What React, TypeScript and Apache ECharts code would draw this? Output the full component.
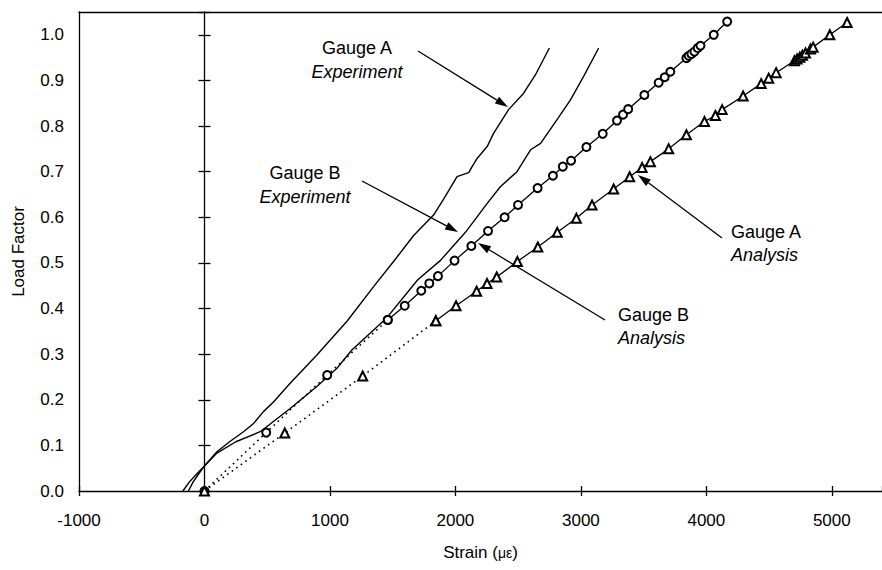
import React, { useEffect, useRef } from "react";
import * as echarts from "echarts";

// ---- Data ----
// Gauge A – experiment
const strainExpA = [-172, -120, -60, 0, 99, 200, 311, 391, 470, 550, 683, 896, 1136, 1348, 1507, 1667, 1826, 1906, 2013, 2053, 2106, 2133, 2173, 2253, 2304, 2424, 2544, 2637, 2749];
const loadExpA = [0, 0.02, 0.038, 0.055, 0.086, 0.108, 0.13, 0.148, 0.174, 0.195, 0.236, 0.298, 0.372, 0.448, 0.503, 0.56, 0.605, 0.64, 0.689, 0.693, 0.698, 0.711, 0.729, 0.755, 0.784, 0.836, 0.872, 0.912, 0.971];

// Gauge B – experiment
const strainExpB = [-128, -90, -40, 0, 99, 250, 444, 683, 896, 1056, 1175, 1454, 1700, 1879, 2080, 2252, 2358, 2491, 2599, 2679, 2810, 2916, 3022, 3142];
const loadExpB = [0, 0.02, 0.04, 0.055, 0.083, 0.108, 0.13, 0.181, 0.229, 0.269, 0.309, 0.38, 0.463, 0.505, 0.567, 0.63, 0.667, 0.7, 0.748, 0.762, 0.814, 0.857, 0.909, 0.971];

// Gauge B – analysis (circles)
const strainAnaB = [0, 492, 978, 1461, 1596, 1728, 1792, 1861, 1993, 2127, 2260, 2392, 2499, 2655, 2777, 2856, 2922, 3044, 3174, 3288, 3336, 3377, 3506, 3620, 3668, 3713, 3841, 3859, 3881, 3905, 3931, 3953, 4059, 4166];
const loadAnaB = [0, 0.128, 0.254, 0.375, 0.406, 0.439, 0.455, 0.471, 0.505, 0.537, 0.57, 0.6, 0.627, 0.664, 0.691, 0.711, 0.724, 0.754, 0.783, 0.812, 0.825, 0.837, 0.868, 0.895, 0.907, 0.919, 0.949, 0.954, 0.958, 0.963, 0.971, 0.976, 1.0, 1.029];

// Gauge A – analysis (triangles)
const strainAnaA = [0, 640, 1261, 1844, 2005, 2169, 2252, 2329, 2494, 2657, 2812, 2964, 3089, 3261, 3389, 3488, 3554, 3700, 3841, 3985, 4072, 4126, 4293, 4437, 4497, 4556, 4702, 4723, 4745, 4766, 4790, 4830, 4851, 4984, 5122];
const loadAnaA = [0, 0.127, 0.252, 0.373, 0.406, 0.438, 0.455, 0.469, 0.503, 0.535, 0.567, 0.598, 0.627, 0.662, 0.689, 0.709, 0.722, 0.75, 0.781, 0.81, 0.823, 0.836, 0.866, 0.893, 0.905, 0.917, 0.943, 0.947, 0.951, 0.955, 0.96, 0.969, 0.973, 1.0, 1.027];

// analysis points up to this index are joined with a dotted line
const DOTTED_END = 3;

// Axis ranges
const X_MIN = -1000;
const X_MAX = 5400;
const X_STEP = 1000;
const Y_MIN = 0;
const Y_MAX = 1.05;
const Y_STEP = 0.1;

const FONT = "'Liberation Sans', Arial, Helvetica, sans-serif";
const INK = "#000";

const zip = (xs: number[], ys: number[]) => xs.map((x, i) => [x, ys[i]]);

function arrow(sx: number, sy: number, tx: number, ty: number) {
  const dx = tx - sx;
  const dy = ty - sy;
  const len = Math.hypot(dx, dy);
  const ux = dx / len;
  const uy = dy / len;
  const L = 13;
  const W = 8;
  const bx = tx - ux * L;
  const by = ty - uy * L;
  const nx = -uy;
  const ny = ux;
  return [
    { type: "line", shape: { x1: sx, y1: sy, x2: bx, y2: by }, style: { stroke: INK, lineWidth: 1.3 }, silent: true },
    {
      type: "polygon",
      shape: { points: [[tx, ty], [bx + (nx * W) / 2, by + (ny * W) / 2], [bx - (nx * W) / 2, by - (ny * W) / 2]] },
      style: { fill: INK },
      silent: true,
    },
  ];
}

function label(text: string, x: number, y: number, align: string, italic = false) {
  return {
    type: "text",
    x,
    y,
    silent: true,
    style: {
      text,
      fill: INK,
      font: `${italic ? "italic " : ""}18px ${FONT}`,
      fontSize: 18,
      fontFamily: FONT,
      fontStyle: italic ? "italic" : "normal",
      align,
      textAlign: align,
      verticalAlign: "middle",
      textVerticalAlign: "middle",
    },
  };
}

export default function App() {
  const ref = useRef<HTMLDivElement>(null);

  useEffect(() => {
    if (!ref.current) return;
    const chart = echarts.init(ref.current, null, { renderer: "svg" });

    const axisLineStyle = { color: INK, width: 1.3 };
    const baseX = { type: "value", min: X_MIN, max: X_MAX, interval: X_STEP, splitLine: { show: false } };
    const baseY = { type: "value", min: Y_MIN, max: Y_MAX, interval: Y_STEP, splitLine: { show: false } };

    const analysisSeries = (xs: number[], ys: number[], symbol: string, size: number) => [
      {
        type: "line",
        data: zip(xs, ys).slice(0, DOTTED_END + 1),
        symbol,
        symbolSize: size,
        showAllSymbol: true,
        itemStyle: { color: INK, borderWidth: 1.2 },
        lineStyle: { color: INK, width: 1.6, type: [1.6, 4] },
        z: 3,
      },
      {
        type: "line",
        data: zip(xs, ys).slice(DOTTED_END),
        symbol,
        symbolSize: size,
        showAllSymbol: true,
        itemStyle: { color: INK, borderWidth: 1.2 },
        lineStyle: { color: INK, width: 1.3 },
        z: 3,
      },
    ];

    chart.setOption({
      animation: false,
      backgroundColor: "#fff",
      textStyle: { fontFamily: FONT },
      grid: { left: 79, right: 0, top: 12, bottom: 79, show: false },
      xAxis: [
        {
          ...baseX,
          position: "bottom",
          axisLine: { onZero: false, lineStyle: axisLineStyle },
          axisTick: { show: true, length: 5, lineStyle: axisLineStyle },
          axisLabel: {
            margin: 21,
            fontSize: 17,
            color: INK,
            fontFamily: FONT,
            showMaxLabel: false,
            formatter: (v: number) => (v % X_STEP === 0 ? String(v) : ""),
          },
          name: "{a|Strain (}{b|με}{a|)}",
          nameLocation: "middle",
          nameGap: 53,
          nameTextStyle: {
            rich: {
              a: { fontSize: 17, color: INK, fontFamily: FONT },
              b: { fontSize: 14, color: INK, fontFamily: FONT },
            },
          },
        },
        {
          ...baseX,
          position: "bottom",
          axisLine: { onZero: false, show: false },
          axisTick: { show: true, inside: true, length: 5, lineStyle: axisLineStyle },
          axisLabel: { show: false },
        },
        {
          ...baseX,
          position: "top",
          axisLine: { onZero: false, show: true, lineStyle: axisLineStyle },
          axisTick: { show: false },
          axisLabel: { show: false },
        },
      ],
      yAxis: [
        {
          ...baseY,
          position: "left",
          axisLine: { onZero: false, show: true, lineStyle: axisLineStyle },
          axisTick: { show: false },
          axisLabel: {
            margin: 15,
            fontSize: 17,
            color: INK,
            fontFamily: FONT,
            showMaxLabel: false,
            formatter: (v: number) => v.toFixed(1),
          },
          name: "Load Factor",
          nameLocation: "middle",
          nameGap: 52,
          nameTextStyle: { fontSize: 17, color: INK, fontFamily: FONT },
        },
        {
          ...baseY,
          position: "left",
          axisLine: { onZero: true, onZeroAxisIndex: 0, show: true, lineStyle: axisLineStyle },
          axisTick: { show: true, length: 6, lineStyle: axisLineStyle },
          axisLabel: { show: false },
        },
        {
          ...baseY,
          position: "left",
          axisLine: { onZero: true, onZeroAxisIndex: 0, show: false },
          axisTick: { show: true, inside: true, length: 6, lineStyle: axisLineStyle },
          axisLabel: { show: false },
        },
      ],
      series: [
        {
          type: "line",
          data: zip(strainExpA, loadExpA),
          symbol: "none",
          lineStyle: { color: INK, width: 1.4 },
          z: 2,
        },
        {
          type: "line",
          data: zip(strainExpB, loadExpB),
          symbol: "none",
          lineStyle: { color: INK, width: 1.4 },
          z: 2,
        },
        ...analysisSeries(strainAnaB, loadAnaB, "emptyCircle", 8),
        ...analysisSeries(strainAnaA, loadAnaA, "emptyTriangle", 9),
      ],
      graphic: [
        label("Gauge A", 357, 48, "center"),
        label("Experiment", 357, 72, "center", true),
        label("Gauge B", 305, 173, "center"),
        label("Experiment", 305, 197, "center", true),
        label("Gauge A", 731, 232, "left"),
        label("Analysis", 731, 255, "left", true),
        label("Gauge B", 618, 315, "left"),
        label("Analysis", 618, 338, "left", true),
        ...arrow(418, 51, 508, 107),
        ...arrow(362, 181, 458, 232),
        ...arrow(722, 238, 638, 175),
        ...arrow(605, 320, 478, 243),
      ],
    });

    return () => chart.dispose();
  }, []);

  return (
    <div
      ref={ref}
      style={{ position: "fixed", left: 0, top: 0, width: 882, height: 570, background: "#fff" }}
    />
  );
}
